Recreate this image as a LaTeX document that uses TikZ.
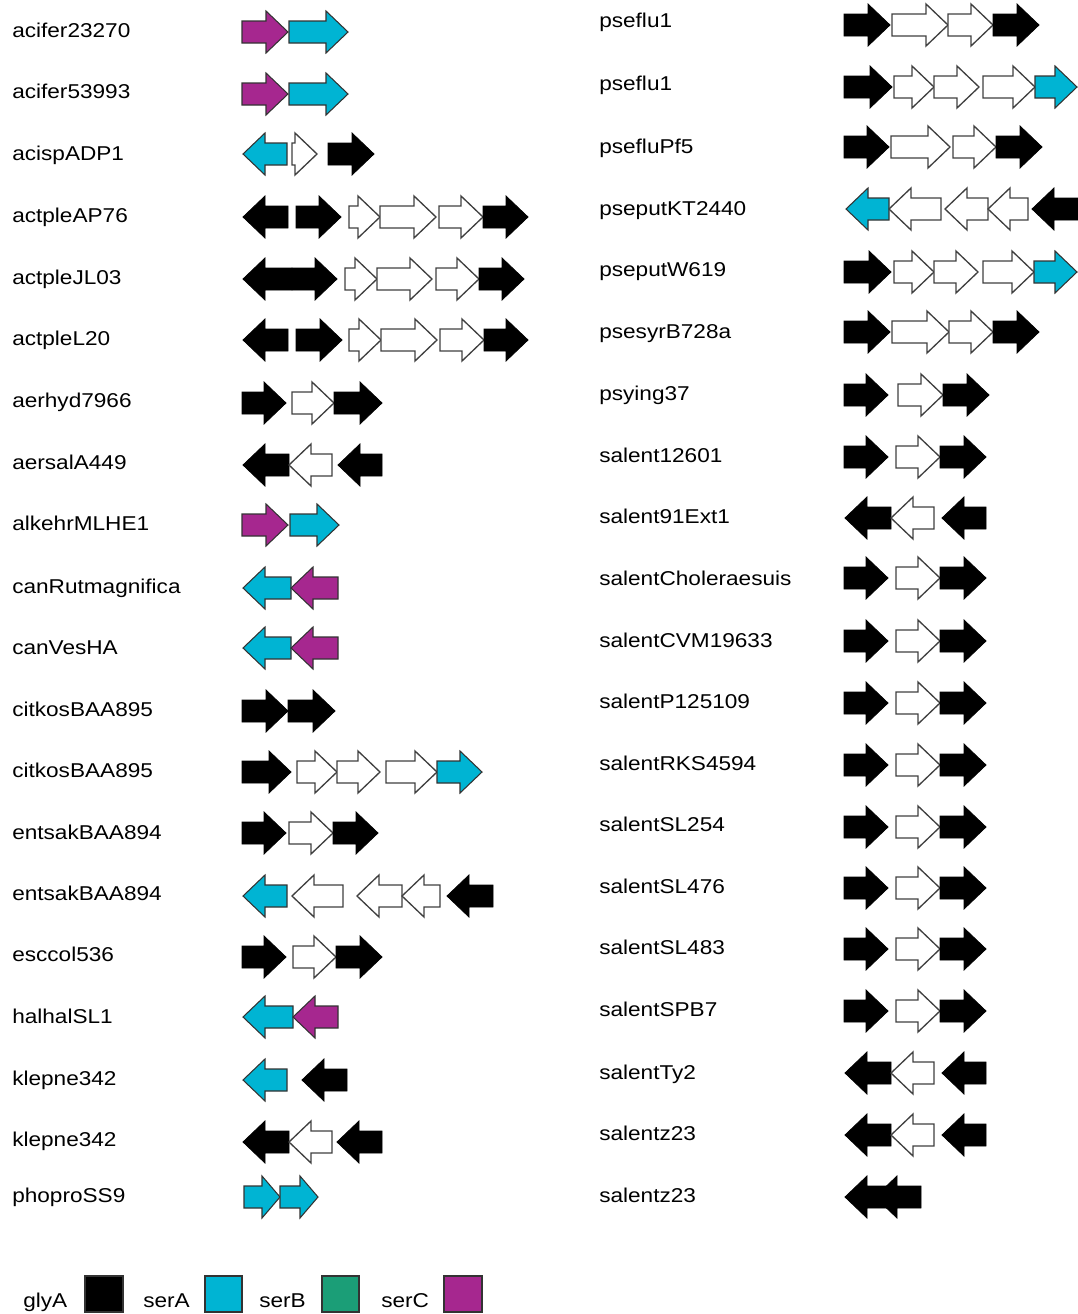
\documentclass[tikz,border=0pt]{standalone}
\usepackage{fontspec}
\setmainfont{Liberation Sans}
\definecolor{serAcol}{HTML}{00B4D3}
\definecolor{serBcol}{HTML}{1B9E77}
\definecolor{serCcol}{HTML}{A6278F}
\definecolor{edge}{HTML}{333333}

% gene arrows: \arR[head]{x-start}{x-tip}{y}{style}, \arL[head]{x-tip}{x-end}{y}{style}
\newcommand\arR[5][22]{\path[#5] (#2,#4-11) -- (#3-#1,#4-11) -- (#3-#1,#4-21) -- (#3,#4)
  -- (#3-#1,#4+21) -- (#3-#1,#4+11) -- (#2,#4+11) -- cycle;}
\newcommand\arL[5][22]{\path[#5] (#2,#4) -- (#2+#1,#4-21) -- (#2+#1,#4-11) -- (#3,#4-11)
  -- (#3,#4+11) -- (#2+#1,#4+11) -- (#2+#1,#4+21) -- cycle;}
\newcommand\lbltext[1]{\scalebox{1.13}[1]{#1}}

\begin{document}
\begin{tikzpicture}[x=0.75pt,y=-0.75pt,line join=miter,
  blk/.style={fill=black,draw=black,line width=0.6pt},
  wht/.style={fill=white,draw=black!75,line width=1pt},
  cyn/.style={fill=serAcol,draw=edge,line width=0.8pt},
  mag/.style={fill=serCcol,draw=edge,line width=0.8pt},
  lbl/.style={anchor=base west,inner sep=0pt,font=\fontsize{15}{18}\selectfont},
  keybox/.style={draw=edge,line width=1.6pt}]
\useasboundingbox (0,0) rectangle (1078,1314);

% ---------- left column labels ----------
\foreach \nm/\yy [count=\i] in {acifer23270/30, acifer53993/91, acispADP1/153,
  actpleAP76/215, actpleJL03/277, actpleL20/338, aerhyd7966/400, aersalA449/462,
  alkehrMLHE1/523, canRutmagnifica/586, canVesHA/647, citkosBAA895/709,
  citkosBAA895/770, entsakBAA894/832, entsakBAA894/893, esccol536/954,
  halhalSL1/1016, klepne342/1078, klepne342/1139, phoproSS9/1195}
  \node[lbl] (L\i) at (12,\yy+7) {\lbltext{\nm}};

% ---------- right column labels ----------
\foreach \nm/\yy [count=\i] in {pseflu1/20, pseflu1/83, psefluPf5/146,
  pseputKT2440/208, pseputW619/269, psesyrB728a/331, psying37/393,
  salent12601/455, salent91Ext1/516, salentCholeraesuis/578,
  salentCVM19633/640, salentP125109/701, salentRKS4594/763, salentSL254/824,
  salentSL476/886, salentSL483/947, salentSPB7/1009, salentTy2/1072,
  salentz23/1133, salentz23/1195}
  \node[lbl] (R\i) at (599,\yy+7) {\lbltext{\nm}};

% ---------- left column gene arrows ----------
\foreach \yy in {32,94}{\arR{242}{288}{\yy}{mag}\arR{289}{348}{\yy}{cyn}}
\arL{243}{287}{154}{cyn}\arR{292}{317}{154}{wht}\arR{328}{374}{154}{blk}
\arL{243}{288}{217}{blk}\arR{296}{341}{217}{blk}\arR{349}{380}{217}{wht}
\arR{380}{436}{217}{wht}\arR{439}{483}{217}{wht}\arR{483}{528}{217}{blk}
\arL{243}{292}{279}{blk}\arR{292}{337}{279}{blk}\arR{345}{377}{279}{wht}
\arR{377}{432}{279}{wht}\arR{436}{479}{279}{wht}\arR{479}{524}{279}{blk}
\arL{243}{288}{340}{blk}\arR{296}{342}{340}{blk}\arR{349}{381}{340}{wht}
\arR{381}{437}{340}{wht}\arR{440}{484}{340}{wht}\arR{484}{528}{340}{blk}
\arR{242}{286}{403}{blk}\arR{292}{334}{403}{wht}\arR{334}{382}{403}{blk}
\arL{243}{289}{465}{blk}\arL{289}{332}{465}{wht}\arL{338}{382}{465}{blk}
\arR{242}{288}{525}{mag}\arR{290}{339}{525}{cyn}
\foreach \yy in {588,648}{\arL{243}{291}{\yy}{cyn}\arL{291}{338}{\yy}{mag}}
\arR{242}{288}{711}{blk}\arR{288}{335}{711}{blk}
\arR{242}{291}{772}{blk}\arR{297}{337}{772}{wht}\arR{337}{380}{772}{wht}
\arR{386}{437}{772}{wht}\arR{437}{482}{772}{cyn}
\arR{242}{286}{833}{blk}\arR{289}{333}{833}{wht}\arR{333}{378}{833}{blk}
\arL{243}{287}{896}{cyn}\arL{292}{343}{896}{wht}\arL{357}{402}{896}{wht}
\arL{402}{440}{896}{wht}\arL{447}{493}{896}{blk}
\arR{242}{286}{957}{blk}\arR{293}{336}{957}{wht}\arR{336}{382}{957}{blk}
\arL{243}{293}{1017}{cyn}\arL{293}{338}{1017}{mag}
\arL{243}{287}{1080}{cyn}\arL{302}{347}{1080}{blk}
\arL{243}{289}{1142}{blk}\arL{289}{332}{1142}{wht}\arL{337}{382}{1142}{blk}
\arR[18]{244}{280}{1197}{cyn}\arR[18]{280}{318}{1197}{cyn}

% ---------- right column gene arrows ----------
\arR{844}{890}{25}{blk}\arR{892}{948}{25}{wht}\arR{948}{993}{25}{wht}\arR{993}{1039}{25}{blk}
\arR{844}{892}{87}{blk}\arR{894}{934}{87}{wht}\arR{934}{979}{87}{wht}
\arR{983}{1035}{87}{wht}\arR{1035}{1077}{87}{cyn}
\arR{844}{889}{147}{blk}\arR{891}{950}{147}{wht}\arR{953}{996}{147}{wht}\arR{996}{1042}{147}{blk}
\arL{846}{889}{209}{cyn}\arL{889}{941}{209}{wht}\arL{945}{988}{209}{wht}
\arL{988}{1028}{209}{wht}\arL{1032}{1079}{209}{blk}
\arR{844}{891}{272}{blk}\arR{894}{934}{272}{wht}\arR{934}{978}{272}{wht}
\arR{983}{1034}{272}{wht}\arR{1034}{1077}{272}{cyn}
\arR{844}{890}{332}{blk}\arR{892}{949}{332}{wht}\arR{949}{993}{332}{wht}\arR{993}{1039}{332}{blk}
\arR{844}{888}{395}{blk}\arR{898}{943}{395}{wht}\arR{943}{989}{395}{blk}
\foreach \yy in {457,578,641,703,765,827,888,949,1011}
  {\arR{844}{888}{\yy}{blk}\arR{896}{940}{\yy}{wht}\arR{940}{986}{\yy}{blk}}
\foreach \yy in {518,1073,1135}
  {\arL{845}{891}{\yy}{blk}\arL{891}{934}{\yy}{wht}\arL{942}{986}{\yy}{blk}}
\arL{845}{890}{1197}{blk}\arL{875}{921}{1197}{blk}

% ---------- legend ----------
\node[lbl] (kglyA) at (23,1307) {\lbltext{glyA}};
\draw[keybox,fill=black] (85,1276) rectangle (123,1312);
\node[lbl] (kserA) at (143,1307) {\lbltext{serA}};
\draw[keybox,fill=serAcol] (205,1276) rectangle (242,1312);
\node[lbl] (kserB) at (259,1307) {\lbltext{serB}};
\draw[keybox,fill=serBcol] (322,1276) rectangle (359,1312);
\node[lbl] (kserC) at (381,1307) {\lbltext{serC}};
\draw[keybox,fill=serCcol] (444,1276) rectangle (482,1312);
\end{tikzpicture}
\end{document}
